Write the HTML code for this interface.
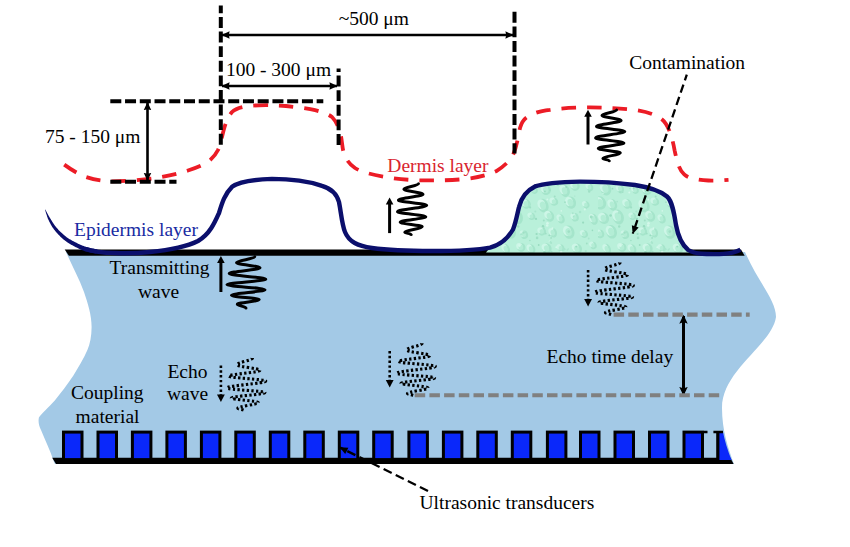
<!DOCTYPE html>
<html>
<head>
<meta charset="utf-8">
<style>
html,body{margin:0;padding:0;background:#fff;}
body{width:850px;height:547px;overflow:hidden;font-family:"Liberation Serif",serif;}
svg{display:block;}
text{font-family:"Liberation Serif",serif;fill:#000;}
</style>
</head>
<body>
<svg width="850" height="547" viewBox="0 0 850 547">
<defs>
  <marker id="ah" viewBox="0 0 10 10" refX="9.500" refY="5" markerWidth="8" markerHeight="8.800" markerUnits="userSpaceOnUse" orient="auto-start-reverse">
    <path d="M0,0.300 L10,5 L0,9.700 L1,5 Z" fill="#000"/>
  </marker>
  <marker id="ah3" viewBox="0 0 10 10" refX="8.500" refY="5" markerWidth="9.500" markerHeight="9" markerUnits="userSpaceOnUse" orient="auto-start-reverse">
    <path d="M0,0.300 L10,5 L0,9.700 L1.800,5 Z" fill="#000"/>
  </marker>
  <marker id="ah2" viewBox="0 0 10 10" refX="9.500" refY="5" markerWidth="9" markerHeight="8" markerUnits="userSpaceOnUse" orient="auto">
    <path d="M0,0.500 L10,5 L0,9.500 Z" fill="#000"/>
  </marker>
  <pattern id="drops" width="101" height="73" patternUnits="userSpaceOnUse" x="497" y="181">
    <rect width="101" height="73" fill="#b9f0da"/>
    <ellipse cx="7.5" cy="8.1" rx="5.4" ry="6.7" fill="#a5e5cb" transform="rotate(-18 6.8 7.3)"/>
    <ellipse cx="6.1" cy="6.4" rx="4.0" ry="4.9" fill="#cdf6e7" transform="rotate(-18 6.8 7.3)"/>
    <ellipse cx="7.2" cy="8.0" rx="3.0" ry="4.0" fill="#b3edd5" transform="rotate(-18 6.8 7.3)"/>
    <ellipse cx="22.1" cy="8.2" rx="3.6" ry="4.6" fill="#a5e5cb" transform="rotate(-18 21.4 7.4)"/>
    <ellipse cx="20.7" cy="6.5" rx="2.7" ry="3.4" fill="#cdf6e7" transform="rotate(-18 21.4 7.4)"/>
    <ellipse cx="21.8" cy="8.1" rx="2.0" ry="2.7" fill="#b3edd5" transform="rotate(-18 21.4 7.4)"/>
    <ellipse cx="37.1" cy="9.3" rx="3.4" ry="3.9" fill="#a5e5cb" transform="rotate(-18 36.4 8.5)"/>
    <ellipse cx="35.7" cy="7.6" rx="2.5" ry="2.9" fill="#cdf6e7" transform="rotate(-18 36.4 8.5)"/>
    <ellipse cx="36.8" cy="9.2" rx="1.9" ry="2.4" fill="#b3edd5" transform="rotate(-18 36.4 8.5)"/>
    <ellipse cx="48.9" cy="9.3" rx="4.9" ry="5.0" fill="#a5e5cb" transform="rotate(-18 48.2 8.5)"/>
    <ellipse cx="47.5" cy="7.6" rx="3.6" ry="3.7" fill="#cdf6e7" transform="rotate(-18 48.2 8.5)"/>
    <ellipse cx="48.6" cy="9.2" rx="2.7" ry="3.0" fill="#b3edd5" transform="rotate(-18 48.2 8.5)"/>
    <ellipse cx="67.7" cy="10.1" rx="4.8" ry="6.2" fill="#a5e5cb" transform="rotate(-18 67.0 9.3)"/>
    <ellipse cx="66.3" cy="8.4" rx="3.5" ry="4.6" fill="#cdf6e7" transform="rotate(-18 67.0 9.3)"/>
    <ellipse cx="67.4" cy="10.0" rx="2.6" ry="3.7" fill="#b3edd5" transform="rotate(-18 67.0 9.3)"/>
    <ellipse cx="78.0" cy="5.4" rx="4.5" ry="4.6" fill="#a5e5cb" transform="rotate(-18 77.3 4.6)"/>
    <ellipse cx="76.6" cy="3.7" rx="3.3" ry="3.4" fill="#cdf6e7" transform="rotate(-18 77.3 4.6)"/>
    <ellipse cx="77.7" cy="5.3" rx="2.5" ry="2.8" fill="#b3edd5" transform="rotate(-18 77.3 4.6)"/>
    <ellipse cx="92.6" cy="6.5" rx="3.3" ry="4.0" fill="#a5e5cb" transform="rotate(-18 91.9 5.7)"/>
    <ellipse cx="91.2" cy="4.8" rx="2.4" ry="3.0" fill="#cdf6e7" transform="rotate(-18 91.9 5.7)"/>
    <ellipse cx="92.3" cy="6.4" rx="1.8" ry="2.4" fill="#b3edd5" transform="rotate(-18 91.9 5.7)"/>
    <ellipse cx="14.4" cy="24.1" rx="4.4" ry="5.9" fill="#a5e5cb" transform="rotate(-18 13.7 23.3)"/>
    <ellipse cx="13.0" cy="22.4" rx="3.3" ry="4.3" fill="#cdf6e7" transform="rotate(-18 13.7 23.3)"/>
    <ellipse cx="14.1" cy="24.0" rx="2.4" ry="3.5" fill="#b3edd5" transform="rotate(-18 13.7 23.3)"/>
    <ellipse cx="29.1" cy="23.2" rx="4.3" ry="4.9" fill="#a5e5cb" transform="rotate(-18 28.4 22.4)"/>
    <ellipse cx="27.7" cy="21.5" rx="3.2" ry="3.6" fill="#cdf6e7" transform="rotate(-18 28.4 22.4)"/>
    <ellipse cx="28.8" cy="23.1" rx="2.4" ry="2.9" fill="#b3edd5" transform="rotate(-18 28.4 22.4)"/>
    <ellipse cx="46.0" cy="24.9" rx="5.2" ry="7.1" fill="#a5e5cb" transform="rotate(-18 45.3 24.1)"/>
    <ellipse cx="44.6" cy="23.2" rx="3.9" ry="5.2" fill="#cdf6e7" transform="rotate(-18 45.3 24.1)"/>
    <ellipse cx="45.7" cy="24.8" rx="2.9" ry="4.2" fill="#b3edd5" transform="rotate(-18 45.3 24.1)"/>
    <ellipse cx="57.0" cy="21.0" rx="3.9" ry="4.0" fill="#a5e5cb" transform="rotate(-18 56.3 20.2)"/>
    <ellipse cx="55.6" cy="19.3" rx="2.9" ry="3.0" fill="#cdf6e7" transform="rotate(-18 56.3 20.2)"/>
    <ellipse cx="56.7" cy="20.9" rx="2.1" ry="2.4" fill="#b3edd5" transform="rotate(-18 56.3 20.2)"/>
    <ellipse cx="73.6" cy="21.9" rx="5.2" ry="6.2" fill="#a5e5cb" transform="rotate(-18 72.9 21.1)"/>
    <ellipse cx="72.2" cy="20.2" rx="3.9" ry="4.6" fill="#cdf6e7" transform="rotate(-18 72.9 21.1)"/>
    <ellipse cx="73.3" cy="21.8" rx="2.9" ry="3.7" fill="#b3edd5" transform="rotate(-18 72.9 21.1)"/>
    <ellipse cx="89.0" cy="24.1" rx="3.2" ry="3.5" fill="#a5e5cb" transform="rotate(-18 88.3 23.3)"/>
    <ellipse cx="87.6" cy="22.4" rx="2.4" ry="2.6" fill="#cdf6e7" transform="rotate(-18 88.3 23.3)"/>
    <ellipse cx="88.7" cy="24.0" rx="1.8" ry="2.1" fill="#b3edd5" transform="rotate(-18 88.3 23.3)"/>
    <ellipse cx="2.2" cy="22.2" rx="5.6" ry="6.7" fill="#a5e5cb" transform="rotate(-18 1.5 21.4)"/>
    <ellipse cx="0.8" cy="20.5" rx="4.1" ry="4.9" fill="#cdf6e7" transform="rotate(-18 1.5 21.4)"/>
    <ellipse cx="1.9" cy="22.1" rx="3.1" ry="4.0" fill="#b3edd5" transform="rotate(-18 1.5 21.4)"/>
    <ellipse cx="5.6" cy="37.6" rx="5.1" ry="5.8" fill="#a5e5cb" transform="rotate(-18 4.9 36.8)"/>
    <ellipse cx="4.2" cy="35.9" rx="3.8" ry="4.3" fill="#cdf6e7" transform="rotate(-18 4.9 36.8)"/>
    <ellipse cx="5.3" cy="37.5" rx="2.8" ry="3.5" fill="#b3edd5" transform="rotate(-18 4.9 36.8)"/>
    <ellipse cx="20.0" cy="36.2" rx="5.5" ry="7.6" fill="#a5e5cb" transform="rotate(-18 19.3 35.4)"/>
    <ellipse cx="18.6" cy="34.5" rx="4.1" ry="5.6" fill="#cdf6e7" transform="rotate(-18 19.3 35.4)"/>
    <ellipse cx="19.7" cy="36.1" rx="3.0" ry="4.6" fill="#b3edd5" transform="rotate(-18 19.3 35.4)"/>
    <ellipse cx="34.6" cy="35.7" rx="3.4" ry="3.5" fill="#a5e5cb" transform="rotate(-18 33.9 34.9)"/>
    <ellipse cx="33.2" cy="34.0" rx="2.5" ry="2.6" fill="#cdf6e7" transform="rotate(-18 33.9 34.9)"/>
    <ellipse cx="34.3" cy="35.6" rx="1.9" ry="2.1" fill="#b3edd5" transform="rotate(-18 33.9 34.9)"/>
    <ellipse cx="52.4" cy="35.4" rx="4.5" ry="5.6" fill="#a5e5cb" transform="rotate(-18 51.7 34.6)"/>
    <ellipse cx="51.0" cy="33.7" rx="3.4" ry="4.1" fill="#cdf6e7" transform="rotate(-18 51.7 34.6)"/>
    <ellipse cx="52.1" cy="35.3" rx="2.5" ry="3.3" fill="#b3edd5" transform="rotate(-18 51.7 34.6)"/>
    <ellipse cx="63.8" cy="38.2" rx="3.5" ry="4.6" fill="#a5e5cb" transform="rotate(-18 63.1 37.4)"/>
    <ellipse cx="62.4" cy="36.5" rx="2.6" ry="3.4" fill="#cdf6e7" transform="rotate(-18 63.1 37.4)"/>
    <ellipse cx="63.5" cy="38.1" rx="1.9" ry="2.8" fill="#b3edd5" transform="rotate(-18 63.1 37.4)"/>
    <ellipse cx="77.8" cy="36.6" rx="3.7" ry="4.2" fill="#a5e5cb" transform="rotate(-18 77.1 35.8)"/>
    <ellipse cx="76.4" cy="34.9" rx="2.7" ry="3.1" fill="#cdf6e7" transform="rotate(-18 77.1 35.8)"/>
    <ellipse cx="77.5" cy="36.5" rx="2.0" ry="2.5" fill="#b3edd5" transform="rotate(-18 77.1 35.8)"/>
    <ellipse cx="96.5" cy="38.5" rx="3.9" ry="5.7" fill="#a5e5cb" transform="rotate(-18 95.8 37.7)"/>
    <ellipse cx="95.1" cy="36.8" rx="2.9" ry="4.2" fill="#cdf6e7" transform="rotate(-18 95.8 37.7)"/>
    <ellipse cx="96.2" cy="38.4" rx="2.2" ry="3.4" fill="#b3edd5" transform="rotate(-18 95.8 37.7)"/>
    <ellipse cx="13.3" cy="51.1" rx="5.3" ry="6.9" fill="#a5e5cb" transform="rotate(-18 12.6 50.3)"/>
    <ellipse cx="11.9" cy="49.4" rx="3.9" ry="5.1" fill="#cdf6e7" transform="rotate(-18 12.6 50.3)"/>
    <ellipse cx="13.0" cy="51.0" rx="2.9" ry="4.2" fill="#b3edd5" transform="rotate(-18 12.6 50.3)"/>
    <ellipse cx="27.1" cy="54.0" rx="3.7" ry="4.2" fill="#a5e5cb" transform="rotate(-18 26.4 53.2)"/>
    <ellipse cx="25.7" cy="52.3" rx="2.7" ry="3.1" fill="#cdf6e7" transform="rotate(-18 26.4 53.2)"/>
    <ellipse cx="26.8" cy="53.9" rx="2.0" ry="2.5" fill="#b3edd5" transform="rotate(-18 26.4 53.2)"/>
    <ellipse cx="44.9" cy="50.7" rx="3.9" ry="4.1" fill="#a5e5cb" transform="rotate(-18 44.2 49.9)"/>
    <ellipse cx="43.5" cy="49.0" rx="2.9" ry="3.0" fill="#cdf6e7" transform="rotate(-18 44.2 49.9)"/>
    <ellipse cx="44.6" cy="50.6" rx="2.2" ry="2.4" fill="#b3edd5" transform="rotate(-18 44.2 49.9)"/>
    <ellipse cx="55.9" cy="52.0" rx="3.8" ry="4.9" fill="#a5e5cb" transform="rotate(-18 55.2 51.2)"/>
    <ellipse cx="54.5" cy="50.3" rx="2.8" ry="3.6" fill="#cdf6e7" transform="rotate(-18 55.2 51.2)"/>
    <ellipse cx="55.6" cy="51.9" rx="2.1" ry="3.0" fill="#b3edd5" transform="rotate(-18 55.2 51.2)"/>
    <ellipse cx="71.7" cy="51.4" rx="5.5" ry="6.8" fill="#a5e5cb" transform="rotate(-18 71.0 50.6)"/>
    <ellipse cx="70.3" cy="49.7" rx="4.1" ry="5.1" fill="#cdf6e7" transform="rotate(-18 71.0 50.6)"/>
    <ellipse cx="71.4" cy="51.3" rx="3.0" ry="4.1" fill="#b3edd5" transform="rotate(-18 71.0 50.6)"/>
    <ellipse cx="87.1" cy="53.4" rx="3.6" ry="3.9" fill="#a5e5cb" transform="rotate(-18 86.4 52.6)"/>
    <ellipse cx="85.7" cy="51.7" rx="2.7" ry="2.9" fill="#cdf6e7" transform="rotate(-18 86.4 52.6)"/>
    <ellipse cx="86.8" cy="53.3" rx="2.0" ry="2.4" fill="#b3edd5" transform="rotate(-18 86.4 52.6)"/>
    <ellipse cx="2.1" cy="53.2" rx="3.8" ry="4.2" fill="#a5e5cb" transform="rotate(-18 1.4 52.4)"/>
    <ellipse cx="0.7" cy="51.5" rx="2.8" ry="3.1" fill="#cdf6e7" transform="rotate(-18 1.4 52.4)"/>
    <ellipse cx="1.8" cy="53.1" rx="2.1" ry="2.5" fill="#b3edd5" transform="rotate(-18 1.4 52.4)"/>
    <ellipse cx="8.9" cy="68.4" rx="3.7" ry="5.4" fill="#a5e5cb" transform="rotate(-18 8.2 67.6)"/>
    <ellipse cx="7.5" cy="66.7" rx="2.7" ry="4.0" fill="#cdf6e7" transform="rotate(-18 8.2 67.6)"/>
    <ellipse cx="8.6" cy="68.3" rx="2.0" ry="3.2" fill="#b3edd5" transform="rotate(-18 8.2 67.6)"/>
    <ellipse cx="24.0" cy="66.7" rx="4.2" ry="4.4" fill="#a5e5cb" transform="rotate(-18 23.3 65.9)"/>
    <ellipse cx="22.6" cy="65.0" rx="3.1" ry="3.3" fill="#cdf6e7" transform="rotate(-18 23.3 65.9)"/>
    <ellipse cx="23.7" cy="66.6" rx="2.3" ry="2.7" fill="#b3edd5" transform="rotate(-18 23.3 65.9)"/>
    <ellipse cx="34.2" cy="68.5" rx="3.8" ry="5.1" fill="#a5e5cb" transform="rotate(-18 33.5 67.7)"/>
    <ellipse cx="32.8" cy="66.8" rx="2.8" ry="3.8" fill="#cdf6e7" transform="rotate(-18 33.5 67.7)"/>
    <ellipse cx="33.9" cy="68.4" rx="2.1" ry="3.1" fill="#b3edd5" transform="rotate(-18 33.5 67.7)"/>
    <ellipse cx="49.7" cy="67.8" rx="4.6" ry="5.3" fill="#a5e5cb" transform="rotate(-18 49.0 67.0)"/>
    <ellipse cx="48.3" cy="66.1" rx="3.4" ry="3.9" fill="#cdf6e7" transform="rotate(-18 49.0 67.0)"/>
    <ellipse cx="49.4" cy="67.7" rx="2.5" ry="3.2" fill="#b3edd5" transform="rotate(-18 49.0 67.0)"/>
    <ellipse cx="63.7" cy="67.3" rx="3.4" ry="3.7" fill="#a5e5cb" transform="rotate(-18 63.0 66.5)"/>
    <ellipse cx="62.3" cy="65.6" rx="2.5" ry="2.8" fill="#cdf6e7" transform="rotate(-18 63.0 66.5)"/>
    <ellipse cx="63.4" cy="67.2" rx="1.9" ry="2.2" fill="#b3edd5" transform="rotate(-18 63.0 66.5)"/>
    <ellipse cx="80.0" cy="68.0" rx="4.7" ry="5.3" fill="#a5e5cb" transform="rotate(-18 79.3 67.2)"/>
    <ellipse cx="78.6" cy="66.3" rx="3.5" ry="3.9" fill="#cdf6e7" transform="rotate(-18 79.3 67.2)"/>
    <ellipse cx="79.7" cy="67.9" rx="2.6" ry="3.2" fill="#b3edd5" transform="rotate(-18 79.3 67.2)"/>
    <ellipse cx="96.2" cy="64.7" rx="3.2" ry="3.7" fill="#a5e5cb" transform="rotate(-18 95.5 63.9)"/>
    <ellipse cx="94.8" cy="63.0" rx="2.4" ry="2.7" fill="#cdf6e7" transform="rotate(-18 95.5 63.9)"/>
    <ellipse cx="95.9" cy="64.6" rx="1.8" ry="2.2" fill="#b3edd5" transform="rotate(-18 95.5 63.9)"/>
    <circle cx="45.2" cy="5.7" r="0.7" fill="#d3f8ea"/>
    <circle cx="53.5" cy="69.6" r="0.7" fill="#a8e6cd"/>
    <circle cx="88.8" cy="70.1" r="1.1" fill="#a8e6cd"/>
    <circle cx="59.3" cy="66.2" r="1.0" fill="#d3f8ea"/>
    <circle cx="70.2" cy="68.9" r="0.6" fill="#9fe0c5"/>
    <circle cx="48.8" cy="52.6" r="0.9" fill="#9fe0c5"/>
    <circle cx="8.9" cy="39.7" r="1.2" fill="#a8e6cd"/>
    <circle cx="79.2" cy="65.6" r="0.9" fill="#98dcc0"/>
    <circle cx="89.8" cy="62.5" r="0.9" fill="#9fe0c5"/>
    <circle cx="86.1" cy="41.6" r="1.1" fill="#98dcc0"/>
    <circle cx="38.7" cy="2.4" r="0.7" fill="#9fe0c5"/>
    <circle cx="64.2" cy="71.0" r="1.3" fill="#d3f8ea"/>
    <circle cx="39.6" cy="53.0" r="1.1" fill="#98dcc0"/>
    <circle cx="46.8" cy="39.4" r="1.0" fill="#9fe0c5"/>
    <circle cx="31.9" cy="7.6" r="0.6" fill="#9fe0c5"/>
    <circle cx="50.2" cy="44.5" r="1.3" fill="#d3f8ea"/>
    <circle cx="89.3" cy="27.3" r="0.7" fill="#a8e6cd"/>
    <circle cx="52.3" cy="54.3" r="0.9" fill="#98dcc0"/>
    <circle cx="50.3" cy="18.4" r="0.9" fill="#d3f8ea"/>
    <circle cx="21.0" cy="31.7" r="1.2" fill="#a8e6cd"/>
    <circle cx="87.8" cy="28.4" r="1.1" fill="#d3f8ea"/>
    <circle cx="22.1" cy="10.9" r="0.9" fill="#9fe0c5"/>
    <circle cx="71.2" cy="68.0" r="0.8" fill="#a8e6cd"/>
    <circle cx="12.6" cy="34.5" r="1.3" fill="#98dcc0"/>
    <circle cx="39.0" cy="37.9" r="1.1" fill="#98dcc0"/>
    <circle cx="32.9" cy="59.5" r="0.8" fill="#9fe0c5"/>
    <circle cx="68.0" cy="21.2" r="0.9" fill="#9fe0c5"/>
    <circle cx="64.3" cy="29.9" r="0.8" fill="#d3f8ea"/>
    <circle cx="24.8" cy="11.4" r="0.6" fill="#9fe0c5"/>
    <circle cx="45.3" cy="45.6" r="1.1" fill="#d3f8ea"/>
    <circle cx="95.4" cy="49.4" r="0.8" fill="#98dcc0"/>
    <circle cx="26.6" cy="51.5" r="1.2" fill="#9fe0c5"/>
    <circle cx="19.1" cy="20.6" r="0.9" fill="#a8e6cd"/>
    <circle cx="40.1" cy="56.9" r="1.3" fill="#9fe0c5"/>
    <circle cx="41.7" cy="64.0" r="0.9" fill="#98dcc0"/>
    <circle cx="45.9" cy="45.3" r="1.3" fill="#98dcc0"/>
    <circle cx="55.4" cy="47.2" r="1.0" fill="#d3f8ea"/>
    <circle cx="46.9" cy="47.1" r="0.8" fill="#9fe0c5"/>
    <circle cx="22.4" cy="64.5" r="1.4" fill="#d3f8ea"/>
    <circle cx="54.1" cy="56.9" r="0.9" fill="#9fe0c5"/>
    <circle cx="35.7" cy="7.3" r="1.0" fill="#98dcc0"/>
    <circle cx="76.8" cy="35.6" r="0.6" fill="#9fe0c5"/>
    <circle cx="43.5" cy="4.0" r="1.0" fill="#a8e6cd"/>
    <circle cx="47.6" cy="71.5" r="1.3" fill="#98dcc0"/>
    <circle cx="94.2" cy="36.0" r="1.4" fill="#9fe0c5"/>
    <circle cx="75.8" cy="32.3" r="1.0" fill="#a8e6cd"/>
    <circle cx="52.7" cy="60.6" r="1.0" fill="#d3f8ea"/>
    <circle cx="67.3" cy="68.3" r="1.3" fill="#a8e6cd"/>
    <circle cx="31.3" cy="11.4" r="1.0" fill="#d3f8ea"/>
    <circle cx="57.7" cy="15.6" r="1.0" fill="#9fe0c5"/>
    <circle cx="60.8" cy="3.4" r="1.4" fill="#98dcc0"/>
    <circle cx="54.8" cy="70.8" r="0.7" fill="#9fe0c5"/>
    <circle cx="69.2" cy="6.1" r="1.0" fill="#98dcc0"/>
    <circle cx="91.7" cy="57.5" r="0.9" fill="#a8e6cd"/>
    <circle cx="47.9" cy="10.4" r="0.9" fill="#98dcc0"/>
    <circle cx="52.9" cy="9.1" r="0.9" fill="#9fe0c5"/>
    <circle cx="92.2" cy="10.6" r="1.2" fill="#9fe0c5"/>
    <circle cx="5.0" cy="12.4" r="0.6" fill="#d3f8ea"/>
    <circle cx="33.1" cy="26.4" r="1.1" fill="#9fe0c5"/>
    <circle cx="50.5" cy="42.3" r="1.3" fill="#d3f8ea"/>
    <circle cx="71.8" cy="50.6" r="1.3" fill="#9fe0c5"/>
    <circle cx="38.3" cy="30.4" r="1.0" fill="#a8e6cd"/>
    <circle cx="54.2" cy="62.0" r="1.0" fill="#a8e6cd"/>
    <circle cx="53.4" cy="61.1" r="1.1" fill="#a8e6cd"/>
    <circle cx="24.3" cy="53.4" r="1.2" fill="#a8e6cd"/>
    <circle cx="32.5" cy="23.5" r="1.3" fill="#a8e6cd"/>
    <circle cx="77.8" cy="15.1" r="0.7" fill="#a8e6cd"/>
    <circle cx="14.5" cy="7.7" r="0.9" fill="#98dcc0"/>
    <circle cx="83.1" cy="31.0" r="1.2" fill="#a8e6cd"/>
    <circle cx="21.2" cy="45.5" r="1.2" fill="#9fe0c5"/>
    </pattern>
</defs>

<!-- coupling material -->
<path id="coupling" d="M66,252 L745,252 C758,282 776,300 776,317 C772,345 722,370 722,408 C722,430 728,448 734,464 L55,464 L54,462 C50,450 45,440 41,430 C39,426 38,422 38.900,417.600 C42,413 48.500,407.500 54.800,400.500 C61,392.500 67.500,384.500 73.400,375.500 C78,368 83.500,359 87.400,350 C90,344 91.600,336 91.600,327 C91.600,315 88,304 84,292 C79,278 72,266 66,252 Z" fill="#a3c9e6"/>

<!-- top plate -->
<path d="M64.700,249.400 L741,249.400 L744.700,255.700 L68.900,255.700 Z" fill="#000"/>

<!-- contamination -->
<path id="contam" d="M486,252.500 L490,247.600 C500,245 508,238 513,229.500 C516,222 517,215 519,207 C521,198 526,190.800 535,186.400 C545,183 560,182 580,181.600 C600,181.600 620,183 635,185 C648,187 660,190.800 667,196.500 C672,201 674,212 676,225 C678,236 681,244 689,250 L692,252.500 Z" fill="url(#drops)"/>

<!-- bottom plate -->
<path d="M52.200,457.800 L730.300,457.800 L733.600,463.900 L56,463.900 Z" fill="#000"/>

<!-- transducers -->
<g id="trans" fill="#0a28fa" stroke="#000" stroke-width="3">
<rect x="63.5" y="432.100" width="18.500" height="27.500" />
<rect x="98.0" y="432.100" width="18.500" height="27.500" />
<rect x="132.4" y="432.100" width="18.500" height="27.500" />
<rect x="166.9" y="432.100" width="18.500" height="27.500" />
<rect x="201.4" y="432.100" width="18.500" height="27.500" />
<rect x="235.8" y="432.100" width="18.500" height="27.500" />
<rect x="270.3" y="432.100" width="18.500" height="27.500" />
<rect x="304.8" y="432.100" width="18.500" height="27.500" />
<rect x="339.3" y="432.100" width="18.500" height="27.500" />
<rect x="373.7" y="432.100" width="18.500" height="27.500" />
<rect x="408.9" y="432.100" width="18.500" height="27.500" />
<rect x="443.4" y="432.100" width="18.500" height="27.500" />
<rect x="477.8" y="432.100" width="18.500" height="27.500" />
<rect x="512.3" y="432.100" width="18.500" height="27.500" />
<rect x="547.4" y="432.100" width="18.500" height="27.500" />
<rect x="580.5" y="432.100" width="18.500" height="27.500" />
<rect x="615.0" y="432.100" width="18.500" height="27.500" />
<rect x="649.5" y="432.100" width="18.500" height="27.500" />
<rect x="684.0" y="432.100" width="18.500" height="27.500" />
</g>
<path d="M717.800,460 L717.800,432 L723,432 C724.500,440 727.500,450 731.500,460 Z" fill="#0a28fa"/>
<path d="M717.800,460 L717.800,431.500" stroke="#000" stroke-width="3.200" fill="none"/>
<path d="M704,432 L707.500,432 M713.400,432 L723,432" stroke="#000" stroke-width="2.600" fill="none"/>

<!-- epidermis -->
<path id="epi" d="M84.900,248.800 C95,252 105,252.800 115,253 C128,253.500 140,253 150,252 C170,250 188,246 198,241 C210,234 215,222 219,213 C222,203 225,193.500 232,186.800 C240,181 255,179.400 272,178.900 C290,178.900 310,181.800 322,185.800 C332,188.800 337,194.500 339,202 C341,212 342,225 345,232 C349,242 358,246 372,248 C390,250.500 410,251 432,251 C455,251 478,250 490,247.600 C500,245 508,238 513,229.500 C516,222 517,215 519,207 C521,198 526,190.800 535,186.400 C545,183 560,182 580,181.600 C600,181.600 620,183 635,185 C648,187 660,190.800 667,196.500 C672,201 674,212 676,225 C678,236 681,244 688.200,250 C693,253 700,253.900 706.600,254 C713,254.200 718,254.200 723.500,253.900 C730,253.500 736,252 740.500,249.700" fill="none" stroke="#0b0f6c" stroke-width="4.400" stroke-linecap="butt"/>

<path d="M45.0,209.6 L45.2,210.4 L45.5,211.2 L45.7,212.0 L46.0,212.9 L46.2,213.7 L46.5,214.5 L46.8,215.3 L47.0,216.2 L47.3,217.0 L47.6,217.8 L47.9,218.7 L48.3,219.5 L48.7,220.3 L49.1,221.2 L49.5,222.0 L49.9,222.8 L50.3,223.6 L50.8,224.4 L51.2,225.3 L51.7,226.1 L52.2,226.9 L52.8,227.8 L53.4,228.6 L54.0,229.5 L54.7,230.3 L55.4,231.2 L56.1,232.1 L56.9,232.9 L57.7,233.8 L58.5,234.7 L59.4,235.5 L60.2,236.4 L61.0,237.2 L61.9,238.0 L62.7,238.7 L63.5,239.4 L64.3,240.1 L65.2,240.7 L66.0,241.3 L66.8,241.9 L67.6,242.4 L68.4,243.0 L69.2,243.5 L70.0,243.9 L70.8,244.4 L71.6,244.9 L72.4,245.3 L73.2,245.8 L74.1,246.3 L75.0,246.7 L75.8,247.2 L76.7,247.6 L77.6,248.1 L78.5,248.5 L79.4,249.0 L80.4,249.4 L81.3,249.8 L82.3,250.2 L83.2,250.5 L84.2,250.9 L85.2,251.2 L86.2,251.5 L87.2,251.8 L88.3,252.0 L89.3,252.3 L90.3,252.5 L91.3,252.7 L92.3,252.9 L93.4,253.1 L94.3,253.3 L95.3,253.5 L96.3,253.7 L97.3,249.5 L96.3,249.2 L95.3,249.0 L94.2,248.8 L93.2,248.6 L92.2,248.4 L91.2,248.2 L90.3,248.0 L89.3,247.7 L88.3,247.5 L87.4,247.3 L86.5,247.0 L85.6,246.7 L84.7,246.4 L83.8,246.1 L82.9,245.8 L82.0,245.4 L81.2,245.0 L80.3,244.7 L79.4,244.3 L78.6,243.9 L77.7,243.5 L76.8,243.0 L76.0,242.6 L75.2,242.2 L74.3,241.8 L73.5,241.3 L72.7,240.9 L71.9,240.5 L71.2,240.1 L70.4,239.6 L69.6,239.2 L68.9,238.7 L68.1,238.2 L67.4,237.7 L66.6,237.2 L65.9,236.6 L65.1,235.9 L64.3,235.3 L63.4,234.6 L62.6,233.8 L61.8,233.1 L60.9,232.3 L60.1,231.5 L59.3,230.7 L58.5,229.9 L57.8,229.1 L57.1,228.3 L56.4,227.5 L55.8,226.8 L55.2,226.0 L54.6,225.3 L54.1,224.6 L53.6,223.8 L53.1,223.1 L52.6,222.3 L52.1,221.5 L51.7,220.8 L51.2,220.0 L50.8,219.2 L50.3,218.5 L49.8,217.7 L49.4,217.0 L48.9,216.2 L48.5,215.5 L48.1,214.8 L47.7,214.0 L47.3,213.2 L46.9,212.5 L46.5,211.7 L46.1,211.0 L45.7,210.2 L45.2,209.4 Z" fill="#0b0f6c"/>

<!-- dermis -->
<path id="derm" d="M62,163 C70,169 78,174 86,177 C95,180 103,181.300 112,181.300 C125,181.300 145,180 162,177 C172,175 180,173 188,170.500 C196,168 203,165 208,162 C213,158 216,154 218,150 C221,143 222,136 224,129 C226,122 228,117 232,112 C237,107 248,105.500 259,105.300 C270,105 280,105.500 286,106 C296,107 308,108.500 315,110.200 C322,112 328,114 332,117 C336,121 338,126 340,132 C342,139 342,146 343.500,152 C345,158 349,164 355,168 C362,172.300 372,174.600 384,176.700 C395,178.800 410,180.300 424,180.400 C437,180.600 450,180.300 462,179.300 C475,178.200 487,175.500 496,171.300 C503,167 509,162 513,155 C517,146 518,137 520,128 C522,121 525,117.500 530,115.500 C536,112 543,110.800 550,109.900 C562,108 577,107.400 590,107.400 C606,107.400 622,108.400 635,109.900 C645,111.400 654,113.800 660,118 C665,121 668,127 670,132.500 C672,138 673.500,144 674.600,150.300 C675.800,156 676.800,160 678.200,164.400 C679.500,168.500 681.500,172 684.200,174.400 C686.500,176.500 689,177.700 692.300,178.400 C697,179.600 702,180.300 708.300,180.500 C715,180.700 722,180.300 728.500,179.800" fill="none" stroke="#ec1c26" stroke-width="3.800" stroke-dasharray="14.500 11" stroke-dashoffset="-2.700"/>

<!-- dimension dashed lines -->
<g stroke="#000" stroke-width="4" fill="none" stroke-dasharray="10.900 3.700">
  <line x1="220.800" y1="5.500" x2="220.800" y2="145.500" stroke-dashoffset="3.100"/>
  <line x1="338.600" y1="68.500" x2="338.600" y2="145.500" stroke-dashoffset="7.500"/>
  <line x1="514.500" y1="11.800" x2="514.500" y2="153.600"/>
  <line x1="110.300" y1="101.300" x2="323.300" y2="101.300" stroke-dasharray="11 3.740"/>
  <line x1="110.300" y1="181.700" x2="176.500" y2="181.700" stroke-dasharray="11 3.740"/>
</g>
<g stroke="#000" stroke-width="2.600" fill="none">
  <line x1="222" y1="35" x2="513" y2="35" marker-start="url(#ah)" marker-end="url(#ah)"/>
  <line x1="222" y1="86" x2="337" y2="86" marker-start="url(#ah)" marker-end="url(#ah)"/>
  <line x1="147.500" y1="102.500" x2="147.500" y2="180.500" marker-start="url(#ah)" marker-end="url(#ah)"/>
  <line x1="683.500" y1="316" x2="683.500" y2="394.500" stroke-width="3" marker-start="url(#ah3)" marker-end="url(#ah3)"/>
</g>

<!-- gray dashed -->
<g stroke="#808080" stroke-width="4.100" fill="none" stroke-dasharray="10.500 4.200">
  <line x1="613.600" y1="314.600" x2="749.700" y2="314.600"/>
  <line x1="414.700" y1="395.200" x2="719.800" y2="395.200"/>
</g>

<!-- leader lines -->
<g stroke="#000" stroke-width="2.300" fill="none">
  <line x1="686.800" y1="74.700" x2="632.800" y2="233.500" stroke-dasharray="8.500 4.500" stroke-dashoffset="2.500" marker-end="url(#ah2)"/>
  <line x1="428" y1="491" x2="340" y2="447.500" stroke-dasharray="9 4.500" marker-end="url(#ah2)"/>
</g>

<path d="M254.8,256.8 C254.8,258.9 236.5,260.6 236.5,262.7 C236.5,264.5 260.0,266.0 260.0,267.8 C260.0,269.9 229.2,271.5 229.2,273.6 C229.2,275.6 265.8,277.2 265.8,279.2 C265.8,281.1 227.0,282.7 227.0,284.6 C227.0,286.4 265.0,287.9 265.0,289.7 C265.0,291.7 231.4,293.3 231.4,295.3 C231.4,296.8 259.2,298.1 259.2,299.6 C259.2,301.3 237.3,302.6 237.3,304.3 C237.3,305.6 246.0,306.7 246.0,308.0" fill="none" stroke="#000" stroke-width="3" stroke-linecap="round" stroke-linejoin="round"/>
<path d="M418.5,183.8 C418.5,185.7 403.9,187.3 403.9,189.2 C403.9,191.0 423.0,192.4 423.0,194.2 C423.0,196.4 398.4,198.0 398.4,200.2 C398.4,202.0 426.7,203.5 426.7,205.3 C426.7,207.6 397.5,209.4 397.5,211.7 C397.5,213.5 425.8,214.9 425.8,216.7 C425.8,218.7 400.2,220.2 400.2,222.2 C400.2,223.8 422.2,225.1 422.2,226.7 C422.2,228.7 404.8,230.2 404.8,232.2 C404.8,233.1 411.2,233.7 411.2,234.6" fill="none" stroke="#000" stroke-width="3" stroke-linecap="round" stroke-linejoin="round"/>
<path d="M616.6,110.0 C616.6,111.9 602.0,113.5 602.0,115.4 C602.0,117.2 621.1,118.6 621.1,120.4 C621.1,122.6 596.5,124.2 596.5,126.4 C596.5,128.2 624.8,129.7 624.8,131.5 C624.8,133.8 595.6,135.6 595.6,137.9 C595.6,139.7 623.9,141.1 623.9,142.9 C623.9,144.9 598.3,146.4 598.3,148.4 C598.3,150.0 620.3,151.3 620.3,152.9 C620.3,154.9 602.9,156.4 602.9,158.4 C602.9,159.3 609.3,159.9 609.3,160.8" fill="none" stroke="#000" stroke-width="3" stroke-linecap="round" stroke-linejoin="round"/>
<path d="M252.6,358.0 C252.6,360.4 237.0,362.3 237.0,364.7 C237.0,366.8 260.0,368.3 260.0,370.4 C260.0,372.5 228.8,374.1 228.8,376.2 C228.8,377.9 265.8,379.3 265.8,381.0 C265.8,383.5 227.1,385.5 227.1,388.0 C227.1,389.7 265.0,390.9 265.0,392.6 C265.0,394.5 231.3,396.1 231.3,398.0 C231.3,399.6 258.4,400.9 258.4,402.5 C258.4,404.6 237.8,406.2 237.8,408.3 C237.8,409.2 244.4,409.8 244.4,410.7" fill="none" stroke="#000" stroke-width="3.100" stroke-dasharray="2.300 2.300" stroke-linejoin="round"/>
<path d="M422.2,343.3 C422.2,345.7 406.6,347.6 406.6,350.0 C406.6,352.1 429.6,353.6 429.6,355.7 C429.6,357.8 398.4,359.4 398.4,361.5 C398.4,363.2 435.4,364.6 435.4,366.3 C435.4,368.8 396.7,370.8 396.7,373.3 C396.7,375.0 434.6,376.2 434.6,377.9 C434.6,379.8 400.9,381.4 400.9,383.3 C400.9,384.9 428.0,386.2 428.0,387.8 C428.0,389.9 407.4,391.5 407.4,393.6 C407.4,394.5 414.0,395.1 414.0,396.0" fill="none" stroke="#000" stroke-width="3.100" stroke-dasharray="2.300 2.300" stroke-linejoin="round"/>
<path d="M620.2,262.4 C620.2,264.8 604.6,266.7 604.6,269.1 C604.6,271.2 627.6,272.7 627.6,274.8 C627.6,276.9 596.4,278.5 596.4,280.6 C596.4,282.3 633.4,283.7 633.4,285.4 C633.4,287.9 594.7,289.9 594.7,292.4 C594.7,294.1 632.6,295.3 632.6,297.0 C632.6,298.9 598.9,300.5 598.9,302.4 C598.9,304.0 626.0,305.3 626.0,306.9 C626.0,309.0 605.4,310.6 605.4,312.7 C605.4,313.6 612.0,314.2 612.0,315.1" fill="none" stroke="#000" stroke-width="3.100" stroke-dasharray="2.300 2.300" stroke-linejoin="round"/>
<line x1="220.9" y1="262.0" x2="220.9" y2="292.0" stroke="#000" stroke-width="3.0"/><path d="M220.9,256.0 L217.1,263.0 L224.7,263.0 Z" fill="#000"/>
<line x1="389.6" y1="203.5" x2="389.6" y2="233.1" stroke="#000" stroke-width="3.0"/><path d="M389.6,197.5 L385.8,204.5 L393.4,204.5 Z" fill="#000"/>
<line x1="588.0" y1="115.7" x2="588.0" y2="144.5" stroke="#000" stroke-width="3.0"/><path d="M588.0,109.7 L584.2,116.7 L591.8,116.7 Z" fill="#000"/>
<line x1="220.9" y1="365.5" x2="220.9" y2="395.0" stroke="#000" stroke-width="2.6" stroke-dasharray="2.400 2.400"/><path d="M220.9,402.0 L217.0,394.5 L224.8,394.5 Z" fill="#000"/>
<line x1="389.7" y1="351.0" x2="389.7" y2="380.5" stroke="#000" stroke-width="2.6" stroke-dasharray="2.400 2.400"/><path d="M389.7,387.5 L385.8,380.0 L393.6,380.0 Z" fill="#000"/>
<line x1="588.1" y1="270.0" x2="588.1" y2="299.5" stroke="#000" stroke-width="2.6" stroke-dasharray="2.400 2.400"/><path d="M588.1,306.5 L584.2,299.0 L592.0,299.0 Z" fill="#000"/>

<!-- text -->
<g font-size="19.500">
  <text transform="translate(338.7,24.8) scale(1,1.02)">~500 μm</text>
  <text transform="translate(225.9,76.1) scale(1,1.02)">100 - 300 μm</text>
  <text transform="translate(45.0,143.0) scale(1,1.02)">75 - 150 μm</text>
  <text transform="translate(629.2,69.3) scale(1,1.02)">Contamination</text>
  <text transform="translate(387.3,171.9) scale(1,1.02)" style="fill:#d9252f">Dermis layer</text>
  <text transform="translate(74.0,235.8) scale(1,1.02)" style="fill:#192ba2">Epidermis layer</text>
  <text transform="translate(109.6,274.3) scale(1,1.02)">Transmitting</text>
  <text transform="translate(138.0,297.7) scale(1,1.02)">wave</text>
  <text transform="translate(167.4,377.9) scale(1,1.02)">Echo</text>
  <text transform="translate(167.0,399.9) scale(1,1.02)">wave</text>
  <text transform="translate(71.0,399.4) scale(1,1.02)">Coupling</text>
  <text transform="translate(75.6,422.9) scale(1,1.02)">material</text>
  <text transform="translate(546.5,362.9) scale(1,1.02)">Echo time delay</text>
  <text transform="translate(419.5,509.4) scale(1,1.02)">Ultrasonic transducers</text>
</g>
</svg>
</body>
</html>
